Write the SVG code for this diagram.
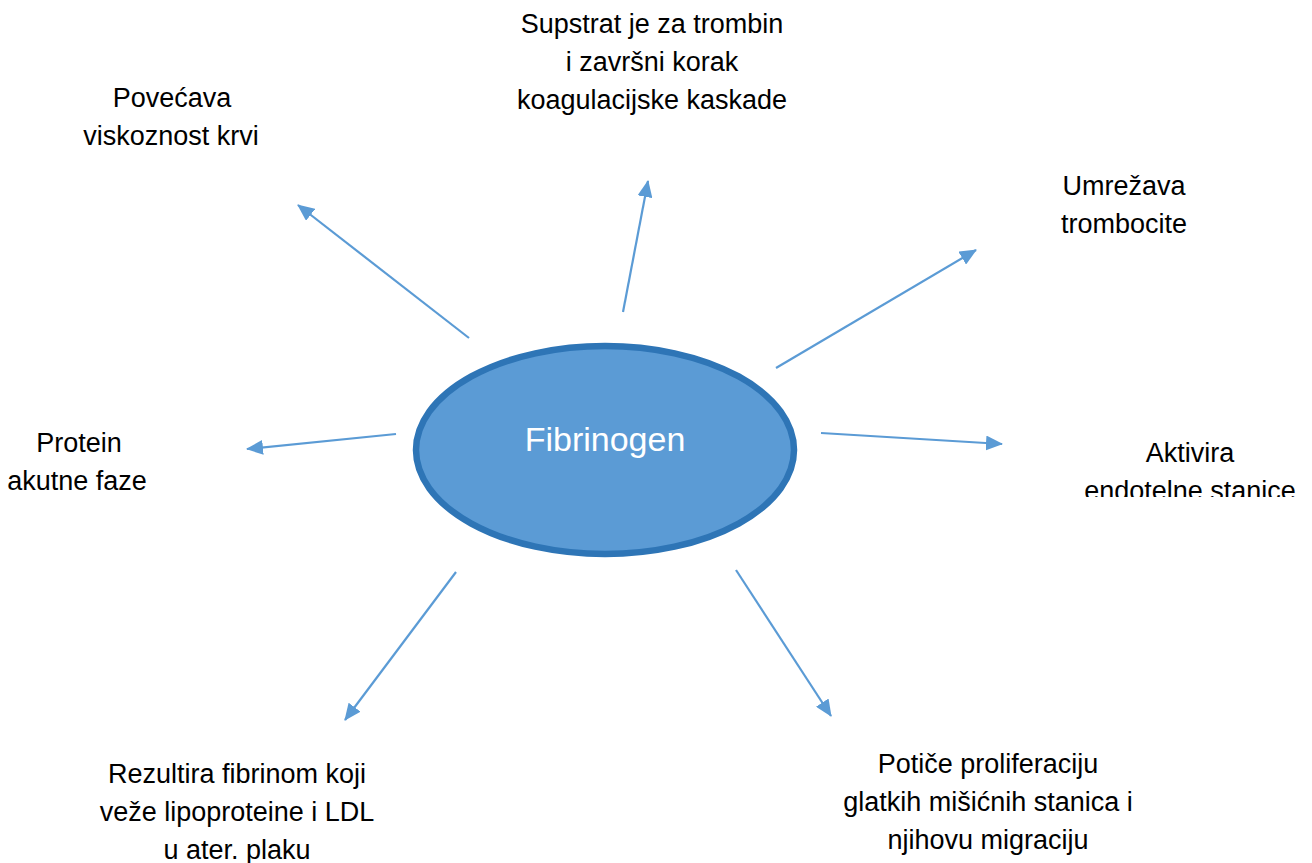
<svg xmlns="http://www.w3.org/2000/svg" width="1312" height="863" viewBox="0 0 1312 863">
<style>
.lbl{font-family:"Liberation Sans",Arial,sans-serif;font-size:27px;fill:#000;text-anchor:middle}
.conn{stroke:#5B9BD5;stroke-width:2.2;fill:none;marker-end:url(#ah)}
</style>
<defs>
<marker id="ah" markerUnits="userSpaceOnUse" markerWidth="17" markerHeight="15" refX="16" refY="7.5" orient="auto">
<path d="M0,0 L17,7.5 L0,15 Z" fill="#5B9BD5"/>
</marker>
<clipPath id="clipA"><rect x="1000" y="420" width="312" height="77"/></clipPath>
</defs>
<rect width="1312" height="863" fill="#fff"/>
<g id="connectors">
<line class="conn" x1="469" y1="338" x2="298" y2="205"/>
<line class="conn" x1="623" y1="312" x2="648" y2="181"/>
<line class="conn" x1="776" y1="368" x2="976" y2="250"/>
<line class="conn" x1="821" y1="433" x2="1002" y2="444"/>
<line class="conn" x1="396" y1="434" x2="247" y2="449"/>
<line class="conn" x1="456" y1="572" x2="345" y2="720"/>
<line class="conn" x1="736" y1="570" x2="831" y2="716"/>
</g>
<g id="fibrinogen">
<ellipse cx="605" cy="450" rx="189" ry="104" fill="#5B9BD5" stroke="#2E75B6" stroke-width="6.5"/>
<text x="605" y="451" style="font-family:'Liberation Sans',Arial,sans-serif;font-size:34px;fill:#fff;text-anchor:middle">Fibrinogen</text>
</g>
<g id="supstrat">
<text class="lbl" x="652" y="33">Supstrat je za trombin</text>
<text class="lbl" x="652" y="71">i završni korak</text>
<text class="lbl" x="652" y="109">koagulacijske kaskade</text>
</g>
<g id="povecava">
<text class="lbl" x="172" y="107">Povećava</text>
<text class="lbl" x="171" y="145">viskoznost krvi</text>
</g>
<g id="umrezava">
<text class="lbl" x="1124" y="195">Umrežava</text>
<text class="lbl" x="1124" y="233">trombocite</text>
</g>
<g id="aktivira" clip-path="url(#clipA)">
<text class="lbl" x="1190" y="462">Aktivira</text>
<text class="lbl" x="1190" y="500">endotelne stanice</text>
</g>
<g id="protein">
<text class="lbl" x="79" y="452">Protein</text>
<text class="lbl" x="77" y="490">akutne faze</text>
</g>
<g id="rezultira">
<text class="lbl" x="237" y="783">Rezultira fibrinom koji</text>
<text class="lbl" x="237" y="821">veže lipoproteine i LDL</text>
<text class="lbl" x="237" y="859">u ater. plaku</text>
</g>
<g id="potice">
<text class="lbl" x="988" y="773">Potiče proliferaciju</text>
<text class="lbl" x="988" y="811">glatkih mišićnih stanica i</text>
<text class="lbl" x="988" y="849">njihovu migraciju</text>
</g>
</svg>
